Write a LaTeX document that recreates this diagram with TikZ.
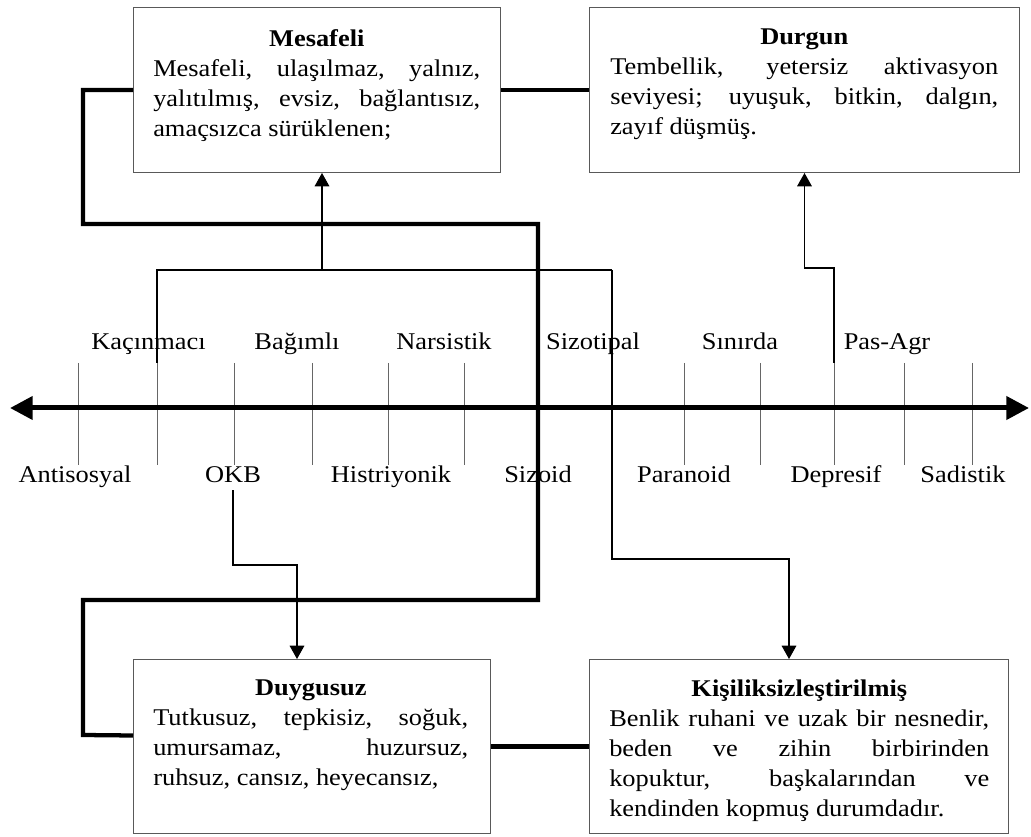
\documentclass[tikz,border=0pt]{standalone}
\usepackage{fontspec}
\setmainfont{Liberation Serif}[FakeStretch=1.10]
\usetikzlibrary{arrows.meta}

\tikzset{
  txt/.style={inner sep=0.75pt, font=\fontsize{18pt}{22.5pt}\selectfont},
  card/.style={draw=black!65, line width=0.75pt, anchor=north west, inner sep=0pt},
  cardtext/.style={txt, anchor=north west, inner sep=0pt, align=justify},
  tick/.style={draw=black!60, line width=0.75pt},
  link/.style={line width=0.9pt, -{Triangle[width=11pt,length=10pt]}},
  bond/.style={line width=3.2pt},
  axis/.style={line width=3.75pt, {Triangle[width=17pt,length=17pt]}-{Triangle[width=17pt,length=17pt]}}
}

\begin{document}
\begin{tikzpicture}[x=0.75pt,y=0.75pt,yscale=-1,xscale=1]
	\useasboundingbox (0,0) rectangle (1031,837);
	
	% Boxes
	\node[card, minimum width=275.25pt, minimum height=123.75pt] (mesafeli) at (133,7) {};
	\node[card, minimum width=322.5pt, minimum height=123.75pt] (durgun) at (589,7) {};
	\node[card, minimum width=267.75pt, minimum height=130.5pt] (duygusuz) at (133,659) {};
	\node[card, minimum width=314.25pt, minimum height=130.5pt] (kisilik) at (589,659) {};
	
	% Text Node
	\node[cardtext, text width=245.25pt] (mesafeliText) at ([xshift=15pt,yshift=16.5pt]mesafeli.north west)
		{{\centering\textbf{Mesafeli}\par}Mesafeli, ulaşılmaz, yalnız,\linebreak yalıtılmış, evsiz, bağlantısız,\linebreak amaçsızca sürüklenen;};
	% Text Node
	\node[cardtext, text width=291pt] (durgunText) at ([xshift=15.75pt,yshift=16.5pt]durgun.north west)
		{{\centering\textbf{Durgun}\par}Tembellik, yetersiz aktivasyon\linebreak seviyesi; uyuşuk, bitkin, dalgın,\linebreak zayıf düşmüş.};
	% Text Node
	\node[cardtext, text width=236.25pt] (duygusuzText) at ([xshift=15pt,yshift=15.5pt]duygusuz.north west)
		{{\centering\textbf{Duygusuz}\par}Tutkusuz, tepkisiz, soğuk,\linebreak umursamaz, huzursuz,\linebreak ruhsuz, cansız, heyecansız,};
	% Text Node
	\node[cardtext, text width=285pt] (kisilikText) at ([xshift=15pt,yshift=15.5pt]kisilik.north west)
		{{\centering\textbf{Kişiliksizleştirilmiş}\par}Benlik ruhani ve uzak bir nesnedir,\linebreak beden ve zihin birbirinden\linebreak kopuktur, başkalarından ve\linebreak kendinden kopmuş durumdadır.};
	
	% Axis
	\coordinate (axisL) at (10,408);
	\coordinate (axisR) at (1029,408);
	\foreach \t in {78,157,234,312,388,464,612,684,760,834,904,972}
		\draw[tick] (\t,363) -- (\t,465);
	\draw[axis] (axisL) -- (axisR);
	
	% Labels above the axis
	\node[txt, anchor=base] (kacinmaci) at (148.5,350) {Kaçınmacı};
	\node[txt, anchor=base] (bagimli) at (297,350) {Bağımlı};
	\node[txt, anchor=base] (narsistik) at (444,350) {Narsistik};
	\node[txt, anchor=base] (sizotipal) at (593,350) {Sizotipal};
	\node[txt, anchor=base] (sinirda) at (740,350) {Sınırda};
	\node[txt, anchor=base] (pasagr) at (887,350) {Pas-Agr};
	% Labels below the axis
	\node[txt, anchor=base] (antisosyal) at (75,482) {Antisosyal};
	\node[txt, anchor=base] (okb) at (233,482) {OKB};
	\node[txt, anchor=base] (histriyonik) at (391,482) {Histriyonik};
	\node[txt, anchor=base] (sizoid) at (538,482) {Sizoid};
	\node[txt, anchor=base] (paranoid) at (684,482) {Paranoid};
	\node[txt, anchor=base] (depresif) at (836,482) {Depresif};
	\node[txt, anchor=base] (sadistik) at (963,482) {Sadistik};
	
	% Thin connectors
	\coordinate (kacTop) at (157,363);
	\coordinate (junction) at (322,270);
	\coordinate (kisBend) at (789,559);
	\coordinate (depTop) at (834,363);
	\coordinate (okbBend) at (297,565);
	\draw[line width=0.9pt] (kacTop) |- (612,270);
	\draw[link] (612,270) |- (kisBend) -- (kisBend |- kisilik.north);
	\draw[link] (junction) -- (junction |- mesafeli.south);
	\draw[link] (depTop) -- (834,268) -| (durgun.south);
	\draw[link] ([yshift=5pt]okb.south) |- (okbBend) -- (okbBend |- duygusuz.north);
	
	% Thick connectors
	\draw[bond] (mesafeli.west) -| (83,224) -| (538,600) -| (83,735) -- ([yshift=-8.25pt]duygusuz.west);
	\draw[bond] (mesafeli.east) -- (durgun.west);
	\draw[bond] (duygusuz.east) -- (kisilik.west);
	
\end{tikzpicture}
\end{document}
